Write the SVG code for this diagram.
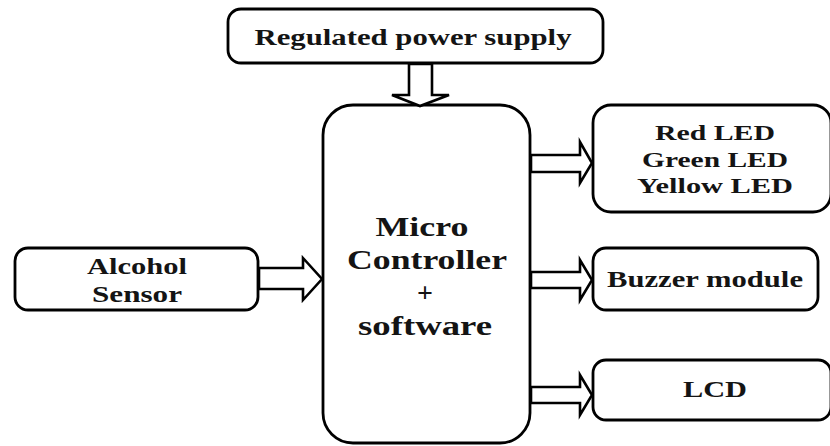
<svg xmlns="http://www.w3.org/2000/svg" width="830" height="446" viewBox="0 0 830 446">
<style>
.box{fill:#fff;stroke:#000;stroke-width:2.8}
.arr{fill:#fff;stroke:#000;stroke-width:2.6;stroke-linejoin:miter}
text{font-family:"Liberation Serif","Times New Roman",serif;font-weight:bold;fill:#141414;text-anchor:middle}
.t{font-size:23px}
.s{font-size:22px}
.m{font-size:28px}
</style>
<rect width="830" height="446" fill="#fff"/>
<g id="power">
<rect class="box" x="228" y="9" width="375" height="54" rx="13"/>
<text class="t" x="413" y="45" textLength="317" lengthAdjust="spacingAndGlyphs">Regulated power supply</text>
</g>
<g id="micro">
<rect class="box" x="323" y="105" width="207" height="338" rx="30"/>
<text class="m" x="422" y="236" textLength="93" lengthAdjust="spacingAndGlyphs">Micro</text>
<text class="m" x="427" y="269" textLength="160" lengthAdjust="spacingAndGlyphs">Controller</text>
<text class="m" x="425" y="302">+</text>
<text class="m" x="425" y="335" textLength="134" lengthAdjust="spacingAndGlyphs">software</text>
</g>
<g id="alcohol">
<rect class="box" x="15" y="248" width="243" height="62" rx="13"/>
<text class="t" x="137" y="274" textLength="100" lengthAdjust="spacingAndGlyphs">Alcohol</text>
<text class="t" x="137" y="302" textLength="90" lengthAdjust="spacingAndGlyphs">Sensor</text>
</g>
<g id="leds">
<rect class="box" x="593" y="105" width="238" height="107" rx="18"/>
<text class="s" x="715" y="140" textLength="120" lengthAdjust="spacingAndGlyphs">Red LED</text>
<text class="s" x="715" y="167" textLength="146" lengthAdjust="spacingAndGlyphs">Green LED</text>
<text class="s" x="715" y="193" textLength="156" lengthAdjust="spacingAndGlyphs">Yellow LED</text>
</g>
<g id="buzzer">
<rect class="box" x="593" y="248" width="225" height="62" rx="13"/>
<text class="t" x="705" y="287" textLength="196" lengthAdjust="spacingAndGlyphs">Buzzer module</text>
</g>
<g id="lcd">
<rect class="box" x="593" y="360" width="238" height="60" rx="13"/>
<text class="t" x="715" y="397" textLength="64" lengthAdjust="spacingAndGlyphs">LCD</text>
</g>
<g id="connectors">
<polygon class="arr" points="409,64 409,95 392,95 420,106 449,95 432,95 432,64"/>
<polygon class="arr" points="259,268 303,268 303,258 322,279 303,300 303,289 259,289"/>
<polygon class="arr" points="531,155 580,155 580,142 592,163 580,183 580,172 531,172"/>
<polygon class="arr" points="531,272 580,272 580,260 592,280 580,300 580,288 531,288"/>
<polygon class="arr" points="531,387 580,387 580,375 592,395 580,415 580,403 531,403"/>
</g>
</svg>
